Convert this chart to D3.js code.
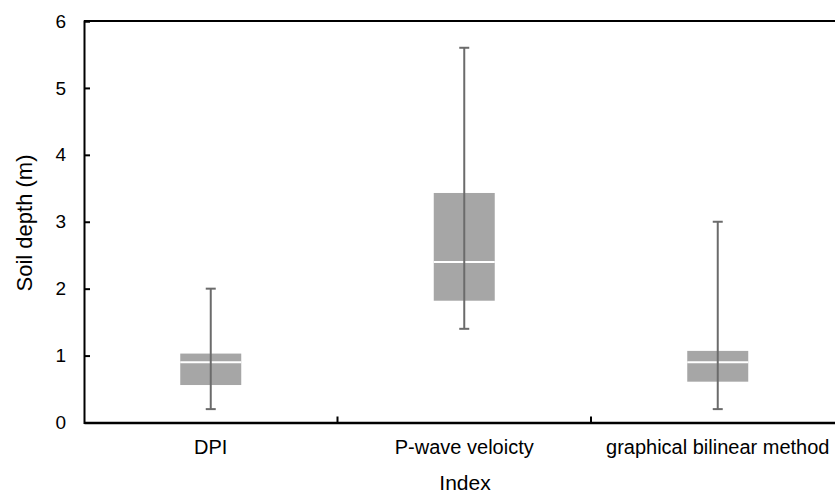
<!DOCTYPE html>
<html>
<head>
<meta charset="utf-8">
<script src="https://cdn.jsdelivr.net/npm/d3@7"></script>
<style>
  body { margin: 0; background: #fff; }
  text { font-family: "Liberation Sans", Arial, sans-serif; fill: #000; }
</style>
</head>
<body>
<div id="chart"></div>
<script>
// data
var categories = ["DPI", "P-wave veloicty", "graphical bilinear method"];
var whiskerMin = [0.2, 1.4, 0.2];
var q1 = [0.56, 1.82, 0.61];
var median = [0.9, 2.4, 0.9];
var q3 = [1.03, 3.43, 1.07];
var whiskerMax = [2.0, 5.6, 3.0];
var yTicks = [0, 1, 2, 3, 4, 5, 6];

(function() {
    var width = 835, height = 496;
    var plotLeft = 84, plotTop = 21, plotBottom = 422.5;
    var bandW = 253.5;

    var svg = d3.select("#chart").append("svg")
        .attr("width", width)
        .attr("height", height);

    var x = d3.scaleBand()
        .domain(categories)
        .range([plotLeft, plotLeft + bandW * categories.length]);

    var y = d3.scaleLinear()
        .domain([0, 6])
        .range([plotBottom, plotTop]);

    var rows = categories.map(function(c, i) {
        return { cat: c, min: whiskerMin[i], q1: q1[i], med: median[i], q3: q3[i], max: whiskerMax[i] };
    });

    var boxW = 61, capW = 10;
    function cx(d) { return x(d.cat) + x.bandwidth() / 2; }

    var g = svg.append("g");

    // boxes
    g.selectAll("rect.box")
        .data(rows)
        .enter()
        .append("rect")
        .attr("class", "box")
        .attr("x", function(d) { return cx(d) - boxW / 2; })
        .attr("width", boxW)
        .attr("y", function(d) { return y(d.q3); })
        .attr("height", function(d) { return y(d.q1) - y(d.q3); })
        .attr("fill", "#a6a6a6");

    // medians
    g.selectAll("line.med")
        .data(rows)
        .enter()
        .append("line")
        .attr("class", "med")
        .attr("x1", function(d) { return cx(d) - boxW / 2; })
        .attr("x2", function(d) { return cx(d) + boxW / 2; })
        .attr("y1", function(d) { return y(d.med); })
        .attr("y2", function(d) { return y(d.med); })
        .attr("stroke", "#fff")
        .attr("stroke-width", 2);

    // whiskers
    g.selectAll("line.whisker")
        .data(rows)
        .enter()
        .append("line")
        .attr("class", "whisker")
        .attr("x1", cx)
        .attr("x2", cx)
        .attr("y1", function(d) { return y(d.min); })
        .attr("y2", function(d) { return y(d.max); })
        .attr("stroke", "#6b6b6b")
        .attr("stroke-width", 2);

    ["min", "max"].forEach(function(k) {
        g.selectAll("line.cap-" + k)
            .data(rows)
            .enter()
            .append("line")
            .attr("class", "cap-" + k)
            .attr("x1", function(d) { return cx(d) - capW / 2; })
            .attr("x2", function(d) { return cx(d) + capW / 2; })
            .attr("y1", function(d) { return y(d[k]); })
            .attr("y2", function(d) { return y(d[k]); })
            .attr("stroke", "#6b6b6b")
            .attr("stroke-width", 2);
    });

    // top frame line
    svg.append("line")
        .attr("x1", plotLeft).attr("x2", width)
        .attr("y1", plotTop).attr("y2", plotTop)
        .attr("stroke", "#000").attr("stroke-width", 2);

    // y axis, ticks pointing inwards
    var yAxis = svg.append("g")
        .attr("transform", "translate(" + plotLeft + ",0)")
        .call(d3.axisLeft(y).tickValues(yTicks).tickSize(-6).tickPadding(18).tickFormat(d3.format("d")));
    yAxis.select(".domain").attr("stroke-width", 2);
    yAxis.selectAll(".tick line").attr("stroke-width", 2);
    yAxis.selectAll("text").style("font-size", "19px");

    // x axis, boundary ticks pointing up
    var xAxis = svg.append("g")
        .attr("transform", "translate(0," + plotBottom + ")")
        .call(d3.axisBottom(x).tickSize(0).tickPadding(17));
    xAxis.select(".domain").attr("stroke-width", 2.5);
    xAxis.selectAll("text").style("font-size", "20px");

    svg.append("g").selectAll("line")
        .data(categories.slice(1))
        .enter()
        .append("line")
        .attr("x1", function(d) { return x(d); })
        .attr("x2", function(d) { return x(d); })
        .attr("y1", plotBottom)
        .attr("y2", plotBottom - 6)
        .attr("stroke", "#000")
        .attr("stroke-width", 2);

    // axis titles
    svg.append("text")
        .attr("x", 465)
        .attr("y", 490)
        .attr("text-anchor", "middle")
        .style("font-size", "21px")
        .text("Index");

    svg.append("text")
        .attr("transform", "translate(32,223) rotate(-90)")
        .attr("text-anchor", "middle")
        .style("font-size", "22px")
        .text("Soil depth (m)");
})();
</script>
</body>
</html>
